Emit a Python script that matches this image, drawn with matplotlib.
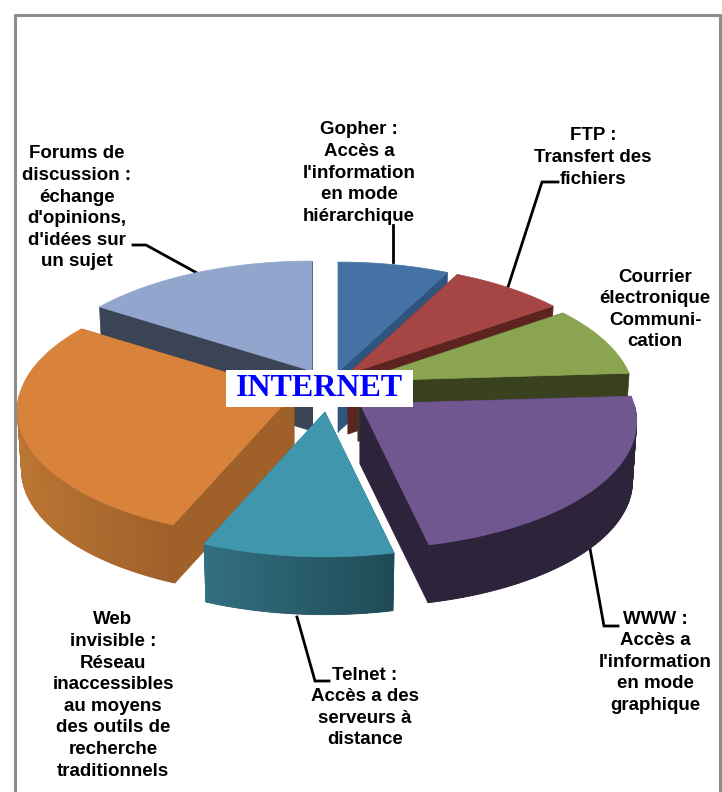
import numpy as np
import matplotlib
matplotlib.use('Agg')
import matplotlib.pyplot as plt
from matplotlib.patches import Polygon, Rectangle

plt.rcParams['font.family'] = ['Liberation Sans', 'DejaVu Sans']

# Shares of each slice, clockwise from the top
names = ['Gopher', 'FTP', 'Courrier', 'WWW', 'Telnet', 'Web invisible', 'Forums']
values = [7.4, 7.6, 9, 22.5, 9.8, 28, 15.7]

labels = [
    "Gopher :\nAccès a\nl'information\nen mode\nhiérarchique",
    "FTP :\nTransfert des\nfichiers",
    "Courrier\nélectronique\nCommuni-\ncation",
    "WWW :\nAccès a\nl'information\nen mode\ngraphique",
    "Telnet :\nAccès a des\nserveurs à\ndistance",
    "Web\ninvisible :\nRéseau\ninaccessibles\nau moyens\ndes outils de\nrecherche\ntraditionnels",
    "Forums de\ndiscussion :\néchange\nd'opinions,\nd'idées sur\nun sujet",
]

# Layout, in pixels of the 722x792 picture
apex = [(338, 372), (348, 374), (358, 381), (360, 404), (325, 412), (294, 393), (312, 371)]
label_pos = [(359, 130), (593, 136), (655, 277), (655, 619), (365, 675), (113, 620), (77, 154)]
top_col = ['#4472A5', '#A54644', '#8AA44F', '#70578F', '#4097AD', '#D8823B', '#92A6CD']
face_col = ['#2F5480', '#5C2321', '#3A411F', '#2D233B', '#2D6A7C', '#9F6029', '#3B4455']
side_left = ['#2F5480', '#5C2321', '#3A411F', '#2D233B', '#336F81', '#BC7634', '#3B4455']
side_right = ['#2F5480', '#5C2321', '#3A411F', '#2D233B', '#1F4B58', '#9E5F2A', '#3B4455']
paint_order = [6, 0, 1, 2, 5, 3, 4]

leaders = [
    [(393, 225), (393, 262)],
    [(558, 182), (542, 182), (508, 287)],
    [(589, 543), (604, 626), (618, 626)],
    [(297, 617), (315, 681), (329, 681)],
    [(133, 245), (146, 245), (197, 273)],
]

RX, RY, K, DEPTH = 274, 125, 0.137, 60
WALL_SHRINK = 0.985

fig = plt.figure(figsize=(7.22, 7.92), dpi=100, facecolor='white')
ax = fig.add_axes([0, 0, 1, 1])
ax.set_xlim(0, 722)
ax.set_ylim(792, 0)
ax.axis('off')

# Frame, open at the bottom
ax.plot([14.5, 14.5, 719.5, 719.5], [792, 15, 15, 792], color='#8C8C8C', lw=2.2, zorder=1)

for pts in leaders:
    xs, ys = zip(*pts)
    ax.plot(xs, ys, color='black', lw=2, solid_joinstyle='miter', zorder=2)


def rim(center, theta):
    # point on the slice's rim, with a small perspective towards the viewer
    y_toward = -np.cos(theta)
    s = 1 / (1 - K * y_toward)
    return center[0] + RX * s * np.sin(theta), center[1] + RY * s * y_toward


edges = np.radians(np.concatenate([[0], np.cumsum(values)]) * 3.6)
z = 3
for i in paint_order:
    cx, cy = apex[i]
    t0, t1 = edges[i], edges[i + 1]
    thetas = np.linspace(t0, t1, int(np.degrees(t1 - t0)) + 2)
    xs, ys = rim(apex[i], thetas)
    # lower rim sits slightly inside the upper one
    xb = cx + (xs - cx) * WALL_SHRINK
    yb = cy + (ys - cy) * WALL_SHRINK + DEPTH

    # straight faces
    for t in (t0, t1):
        x, y = rim(apex[i], t)
        x2 = cx + (x - cx) * WALL_SHRINK
        y2 = cy + (y - cy) * WALL_SHRINK + DEPTH
        ax.add_patch(Polygon([(cx, cy), (x, y), (x2, y2), (cx, cy + DEPTH)],
                             fc=face_col[i], ec=face_col[i], lw=0.5, zorder=z))

    # outer wall, only where it faces the viewer
    front = np.where(-np.cos(thetas) >= 0)[0]
    if len(front) > 1:
        x_lo, x_hi = xs[front].min(), xs[front].max()
        c0 = np.array(matplotlib.colors.to_rgb(side_left[i]))
        c1 = np.array(matplotlib.colors.to_rgb(side_right[i]))
        # solid base first so the strips leave no seams
        base = np.column_stack([np.r_[xs[front], xb[front][::-1]], np.r_[ys[front], yb[front][::-1]]])
        ax.add_patch(Polygon(base, fc=(c0 + c1) / 2, ec='none', zorder=z))
        for a, b in zip(front[:-1], front[1:]):
            f = ((xs[a] + xs[b]) / 2 - x_lo) / (x_hi - x_lo)
            col = c0 + (c1 - c0) * f
            ax.add_patch(Polygon([(xs[a], ys[a]), (xs[b], ys[b]), (xb[b], yb[b]), (xb[a], yb[a])],
                                 fc=col, ec=col, lw=0.6, zorder=z))

    # top of the slice
    ax.add_patch(Polygon(np.column_stack([np.r_[cx, xs], np.r_[cy, ys]]),
                         fc=top_col[i], ec=top_col[i], lw=0.5, zorder=z + 0.5))
    z += 1

# Centre title
ax.add_patch(Rectangle((226, 370), 187, 37, fc='white', ec='none', zorder=20))
ax.text(319.5, 389, 'INTERNET', family='Liberation Serif', fontsize=23, fontweight='bold',
        color='#0000FF', ha='center', va='center', zorder=21)

# Labels
for txt, (lx, ly) in zip(labels, label_pos):
    for j, line in enumerate(txt.split('\n')):
        ax.text(lx, ly + j * 21.6, line, fontsize=13.5, fontweight='bold', color='black',
                ha='center', va='center', zorder=22)

plt.savefig('out.png', dpi=100, facecolor='white')
plt.close()
